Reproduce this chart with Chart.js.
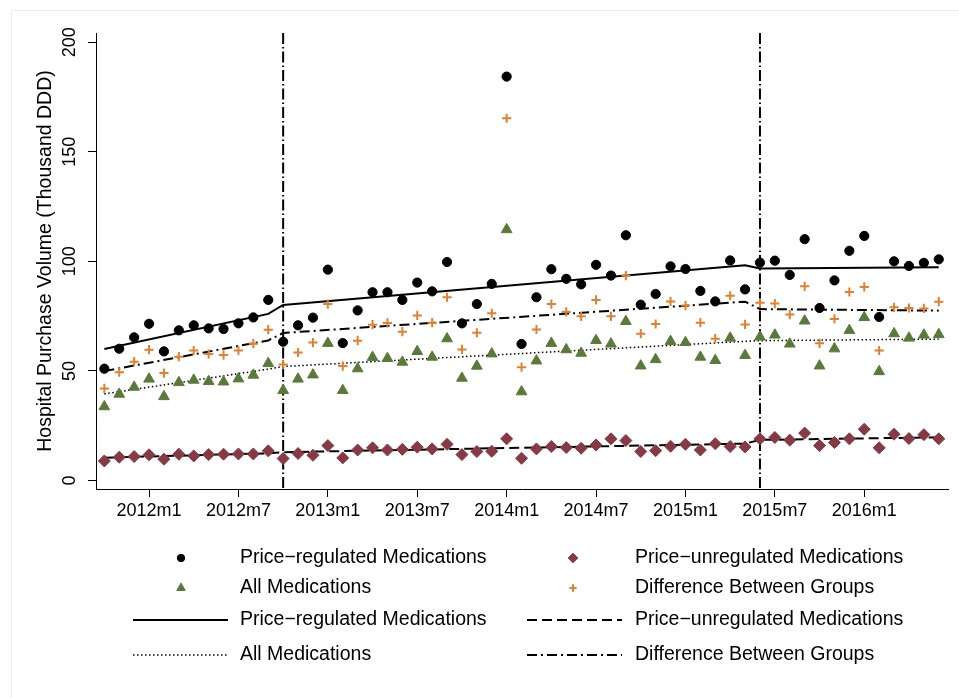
<!DOCTYPE html>
<html>
<head>
<meta charset="utf-8">
<script src="https://cdn.jsdelivr.net/npm/chart.js@4"></script>
<style>
    body { margin: 0; background: #fff; }
    canvas { display: block; }
</style>
</head>
<body>
<canvas id="chart" width="959" height="698"></canvas>
<script>
// months on the x axis (index = position)
let months = [
    '2011m10', '2011m11', '2011m12', '2012m1', '2012m2', '2012m3', '2012m4', '2012m5', '2012m6', '2012m7',
    '2012m8', '2012m9', '2012m10', '2012m11', '2012m12', '2013m1', '2013m2', '2013m3', '2013m4', '2013m5',
    '2013m6', '2013m7', '2013m8', '2013m9', '2013m10', '2013m11', '2013m12', '2014m1', '2014m2', '2014m3',
    '2014m4', '2014m5', '2014m6', '2014m7', '2014m8', '2014m9', '2014m10', '2014m11', '2014m12', '2015m1',
    '2015m2', '2015m3', '2015m4', '2015m5', '2015m6', '2015m7', '2015m8', '2015m9', '2015m10', '2015m11',
    '2015m12', '2016m1', '2016m2', '2016m3', '2016m4', '2016m5', '2016m6'
];
let xTickLabels = ['2012m1', '2012m7', '2013m1', '2013m7', '2014m1', '2014m7', '2015m1', '2015m7', '2016m1'];
let yTicks = [0, 50, 100, 150, 200];
let interventionMonths = ['2012m10', '2015m6'];

let regulated = [51.0, 60.1, 65.3, 71.5, 58.9, 68.5, 70.8, 69.4, 69.1, 71.7, 74.4, 82.4, 63.3, 70.8,
    74.3, 96.2, 62.7, 77.6, 85.9, 85.9, 82.4, 90.3, 86.3, 99.7, 71.7, 80.5, 89.7, 184.3,
    62.3, 83.6, 96.4, 92.0, 89.5, 98.4, 93.5, 111.9, 80.2, 85.1, 97.7, 96.5, 86.5, 81.7, 100.4,
    87.2, 99.4, 100.3, 93.8, 110.1, 78.7, 91.3, 104.8, 111.6, 74.6, 100.0, 97.9, 99.3, 100.9];
let unregulated = [8.9, 10.6, 10.9, 11.7, 9.7, 12.0, 11.2, 11.8, 12.0, 12.1, 12.1, 13.5, 10.0, 12.3,
    11.5, 15.9, 10.3, 13.9, 14.9, 13.9, 14.2, 15.2, 14.4, 16.5, 11.8, 13.2, 13.3, 19.0,
    10.1, 14.4, 15.5, 15.0, 14.7, 16.2, 19.0, 18.2, 13.2, 13.6, 15.6, 16.5, 13.9, 16.8, 15.5,
    15.3, 19.0, 19.6, 18.4, 21.6, 15.9, 17.3, 19.0, 23.4, 14.9, 21.1, 19.1, 20.9, 19.0];
let allMeds = [33.7, 39.4, 42.6, 46.3, 38.3, 44.7, 45.8, 45.2, 45.0, 46.4, 48.1, 53.4, 41.1, 46.3,
    48.2, 62.6, 41.1, 51.0, 56.2, 55.7, 54.0, 58.9, 56.3, 64.7, 46.7, 52.2, 57.8, 114.5,
    40.5, 54.6, 62.6, 59.7, 58.1, 63.9, 62.3, 72.6, 52.3, 55.2, 63.5, 63.0, 56.3, 54.8, 65.0,
    57.1, 65.5, 66.4, 62.3, 72.8, 52.3, 60.1, 68.5, 74.4, 49.7, 67.0, 65.0, 66.4, 66.6];
let difference = [42.0, 49.4, 54.2, 59.7, 49.0, 56.5, 59.3, 57.7, 57.2, 59.3, 62.4, 68.8, 52.9, 58.4,
    62.9, 80.5, 52.2, 63.8, 71.1, 71.9, 67.9, 75.3, 72.0, 83.6, 59.8, 67.4, 76.3, 165.3,
    51.7, 68.9, 80.5, 76.9, 74.9, 82.4, 74.9, 93.5, 67.0, 71.4, 81.7, 79.8, 72.0, 64.7, 84.3,
    71.2, 81.1, 80.7, 75.7, 88.6, 62.6, 73.7, 86.0, 88.3, 59.3, 79.0, 78.7, 78.5, 81.6];

// fitted segmented trends, values at the segment ends
let fitMonths = ['2011m10', '2012m9', '2012m10', '2015m5', '2015m6', '2016m6'];
let fitRegulated = [60.0, 76.0, 80.1, 98.2, 96.7, 97.3];
let fitUnregulated = [10.4, 12.4, 12.9, 16.8, 18.5, 19.7];
let fitAll = [39.5, 50.8, 52.0, 63.5, 63.8, 64.5];
let fitDifference = [49.9, 63.9, 67.3, 81.6, 78.2, 77.5];

const BLACK = '#000000';
const GREEN = '#5a7a3b';
const MAROON = '#873a43';
const ORANGE = '#e2802f';
const FONT = "'Liberation Sans', Arial, Helvetica, sans-serif";

Chart.defaults.font.family = FONT;
Chart.defaults.color = BLACK;

function points(values) {
    return values.map((v, i) => ({ x: i, y: v }));
}

function fitPoints(values) {
    return values.map((v, k) => ({ x: months.indexOf(fitMonths[k]), y: v }));
}

function markerSet(label, values, style, color, radius) {
    return {
        label: label,
        data: points(values),
        pointStyle: style,
        pointRadius: radius,
        pointHoverRadius: radius,
        backgroundColor: color,
        borderColor: color,
        borderWidth: style === 'cross' ? 2 : 1,
        showLine: false
    };
}

function lineSet(label, values, dash, width) {
    return {
        label: label,
        data: fitPoints(values),
        type: 'line',
        showLine: true,
        borderColor: BLACK,
        borderWidth: width,
        borderDash: dash,
        pointRadius: 0,
        fill: false,
        tension: 0
    };
}

let datasets = [
    markerSet('Price\u2212regulated Medications', regulated, 'circle', BLACK, 4.6),
    markerSet('Price\u2212unregulated Medications', unregulated, 'rectRot', MAROON, 6),
    markerSet('All Medications', allMeds, 'triangle', GREEN, 6.2),
    markerSet('Difference Between Groups', difference, 'cross', ORANGE, 4.6),
    lineSet('Price\u2212regulated Medications', fitRegulated, [], 2),
    lineSet('Price\u2212unregulated Medications', fitUnregulated, [10, 5], 2),
    lineSet('All Medications', fitAll, [1.5, 2.5], 1.5),
    lineSet('Difference Between Groups', fitDifference, [10, 4, 2, 4], 2)
];

// white page with the faint frame of the original export
let backgroundPlugin = {
    id: 'background',
    beforeDraw(chart) {
        let ctx = chart.ctx;
        ctx.save();
        ctx.fillStyle = '#ffffff';
        ctx.fillRect(0, 0, chart.width, chart.height);
        ctx.strokeStyle = '#ececec';
        ctx.lineWidth = 1;
        ctx.beginPath();
        ctx.moveTo(11.5, chart.height);
        ctx.lineTo(11.5, 10.5);
        ctx.lineTo(chart.width, 10.5);
        ctx.stroke();
        ctx.restore();
    }
};

// vertical dash-dot lines at the two policy dates
let interventionPlugin = {
    id: 'interventions',
    beforeDatasetsDraw(chart) {
        let ctx = chart.ctx;
        let area = chart.chartArea;
        ctx.save();
        ctx.strokeStyle = BLACK;
        ctx.lineWidth = 2;
        ctx.setLineDash([11, 3, 1.5, 3]);
        interventionMonths.forEach(m => {
            let x = chart.scales.x.getPixelForValue(months.indexOf(m));
            ctx.beginPath();
            ctx.moveTo(x, area.top);
            ctx.lineTo(x, area.bottom);
            ctx.stroke();
        });
        ctx.restore();
    }
};

// two-column legend under the plot, markers first then fitted lines
let legendPlugin = {
    id: 'bottomLegend',
    afterDraw(chart) {
        let ctx = chart.ctx;
        let rows = [558, 588, 620, 655];
        let cols = [
            { marker: 181, lineStart: 133, lineEnd: 228, text: 240 },
            { marker: 573, lineStart: 527, lineEnd: 622, text: 635 }
        ];
        let order = [[0, 1], [2, 3], [4, 5], [6, 7]];
        ctx.save();
        ctx.font = '19.5px ' + FONT;
        ctx.textBaseline = 'middle';
        ctx.fillStyle = BLACK;
        order.forEach((pair, r) => {
            pair.forEach((di, c) => {
                let ds = chart.data.datasets[di];
                let col = cols[c];
                let y = rows[r];
                if (ds.showLine) {
                    ctx.save();
                    ctx.strokeStyle = ds.borderColor;
                    ctx.lineWidth = ds.borderWidth;
                    ctx.setLineDash(ds.borderDash);
                    ctx.beginPath();
                    ctx.moveTo(col.lineStart, y);
                    ctx.lineTo(col.lineEnd, y);
                    ctx.stroke();
                    ctx.restore();
                } else {
                    ctx.save();
                    ctx.fillStyle = ds.backgroundColor;
                    ctx.strokeStyle = ds.borderColor;
                    ctx.lineWidth = ds.borderWidth;
                    Chart.helpers.drawPoint(ctx, {
                        pointStyle: ds.pointStyle,
                        radius: ds.pointRadius * 0.8,
                        borderWidth: ds.borderWidth,
                        rotation: 0
                    }, col.marker, y);
                    ctx.restore();
                }
                ctx.fillText(ds.label, col.text, y);
            });
        });
        ctx.restore();
    }
};

let ctx = document.getElementById('chart').getContext('2d');
let chart = new Chart(ctx, {
    type: 'scatter',
    data: { datasets: datasets },
    plugins: [backgroundPlugin, interventionPlugin, legendPlugin],
    options: {
        responsive: false,
        animation: false,
        devicePixelRatio: 1,
        layout: { padding: { top: 33, right: 11, bottom: 169, left: 0 } },
        plugins: {
            legend: { display: false },
            tooltip: { enabled: false }
        },
        scales: {
            x: {
                type: 'linear',
                min: -0.56,
                max: 56.62,
                afterBuildTicks: (axis) => {
                    axis.ticks = xTickLabels.map(l => ({ value: months.indexOf(l) }));
                },
                afterFit: (axis) => { axis.height = 40; },
                ticks: {
                    callback: (value) => months[value],
                    font: { size: 18 },
                    color: BLACK,
                    padding: 3,
                    maxRotation: 0,
                    autoSkip: false
                },
                grid: { drawOnChartArea: false, tickLength: 8, color: BLACK, lineWidth: 1 },
                border: { color: BLACK, width: 1 }
            },
            y: {
                min: -3.9,
                max: 204.2,
                afterBuildTicks: (axis) => {
                    axis.ticks = yTicks.map(v => ({ value: v }));
                },
                afterFit: (axis) => { axis.width = 96; },
                ticks: {
                    font: { size: 18 },
                    color: BLACK,
                    padding: 3,
                    minRotation: 90,
                    maxRotation: 90,
                    crossAlign: 'center'
                },
                grid: { drawOnChartArea: false, tickLength: 8, color: BLACK, lineWidth: 1 },
                border: { color: BLACK, width: 1 },
                title: {
                    display: true,
                    text: 'Hospital Purchase Volume (Thousand DDD)',
                    font: { size: 19.5 },
                    color: BLACK,
                    padding: { top: 34, bottom: 0 }
                }
            }
        }
    }
});
</script>
</body>
</html>
